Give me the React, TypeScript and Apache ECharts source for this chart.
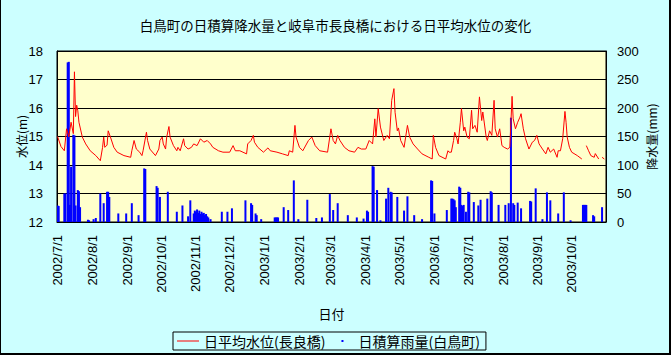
import React, { useEffect, useRef } from "react";
import * as echarts from "echarts";

const TITLE = "白鳥町の日積算降水量と岐阜市長良橋における日平均水位の変化";
const LEVEL_NAME = "日平均水位(長良橋)";
const RAIN_NAME = "日積算雨量(白鳥町)";
const START = [2002, 7, 1];
const END = [2003, 10, 31];

// daily average water level (m) at key dates, null = missing
const levelData: [string, number | null][] = [
  ["2002/7/1", 15.0], ["2002/7/4", 14.65], ["2002/7/7", 14.5], ["2002/7/9", 15.27], ["2002/7/11", 14.99],
  ["2002/7/13", 15.5], ["2002/7/15", 15.1], ["2002/7/16", 17.27], ["2002/7/17", 15.7], ["2002/7/18", 16.1],
  ["2002/7/19", 15.9], ["2002/7/20", 15.5], ["2002/7/23", 14.98], ["2002/7/26", 14.74], ["2002/7/30", 14.5],
  ["2002/8/4", 14.33], ["2002/8/8", 14.15], ["2002/8/10", 14.62], ["2002/8/11", 14.98], ["2002/8/12", 14.62],
  ["2002/8/14", 14.7], ["2002/8/15", 15.2], ["2002/8/17", 14.98], ["2002/8/20", 14.62], ["2002/8/23", 14.45],
  ["2002/8/29", 14.33], ["2002/9/4", 14.27], ["2002/9/5", 14.5], ["2002/9/7", 14.86], ["2002/9/9", 14.56],
  ["2002/9/12", 14.45], ["2002/9/14", 14.33], ["2002/9/15", 14.5], ["2002/9/18", 15.15], ["2002/9/19", 14.86],
  ["2002/9/21", 14.56], ["2002/9/26", 14.33], ["2002/9/29", 14.56], ["2002/9/30", 14.86], ["2002/10/2", 14.98],
  ["2002/10/3", 14.74], ["2002/10/5", 14.56], ["2002/10/6", 14.98], ["2002/10/8", 15.35], ["2002/10/9", 14.98],
  ["2002/10/12", 14.68], ["2002/10/15", 14.5], ["2002/10/16", 14.62], ["2002/10/18", 14.5], ["2002/10/21", 14.92],
  ["2002/10/22", 14.68], ["2002/10/25", 14.56], ["2002/10/28", 14.62], ["2002/10/30", 14.74], ["2002/11/2", 14.68],
  ["2002/11/5", 14.92], ["2002/11/8", 14.8], ["2002/11/11", 14.86], ["2002/11/14", 14.74], ["2002/11/16", 14.62],
  ["2002/11/21", 14.5], ["2002/11/25", 14.45], ["2002/12/1", 14.45], ["2002/12/4", 14.68], ["2002/12/6", 14.5],
  ["2002/12/10", 14.5], ["2002/12/16", 14.39], ["2002/12/17", 14.74], ["2002/12/20", 14.86], ["2002/12/22", 15.04],
  ["2002/12/23", 14.8], ["2002/12/26", 14.62], ["2002/12/31", 14.45], ["2003/1/4", 14.6], ["2003/1/6", 14.5],
  ["2003/1/12", 14.45], ["2003/1/17", 14.39], ["2003/1/22", 14.33], ["2003/1/23", 14.5], ["2003/1/26", 14.45],
  ["2003/1/28", 15.39], ["2003/1/29", 14.98], ["2003/2/1", 14.62], ["2003/2/4", 14.5], ["2003/2/9", 14.86],
  ["2003/2/12", 14.98], ["2003/2/15", 14.68], ["2003/2/19", 14.5], ["2003/2/26", 14.45], ["2003/3/1", 15.27],
  ["2003/3/3", 14.86], ["2003/3/5", 14.74], ["2003/3/7", 15.04], ["2003/3/9", 14.86], ["2003/3/13", 14.62],
  ["2003/3/17", 14.5], ["2003/3/22", 14.45], ["2003/3/25", 14.62], ["2003/3/28", 14.56], ["2003/4/1", 14.56],
  ["2003/4/4", 14.86], ["2003/4/7", 14.74], ["2003/4/9", 15.62], ["2003/4/10", 14.98], ["2003/4/12", 15.98],
  ["2003/4/14", 15.33], ["2003/4/17", 14.86], ["2003/4/20", 15.04], ["2003/4/22", 14.92], ["2003/4/24", 16.27],
  ["2003/4/26", 16.68], ["2003/4/27", 15.85], ["2003/4/29", 15.2], ["2003/4/30", 15.3], ["2003/5/2", 14.86],
  ["2003/5/5", 14.62], ["2003/5/8", 15.39], ["2003/5/10", 14.98], ["2003/5/13", 14.74], ["2003/5/17", 14.56],
  ["2003/5/21", 14.39], ["2003/5/27", 14.27], ["2003/5/30", 14.21], ["2003/5/31", 15.04], ["2003/6/2", 14.62],
  ["2003/6/5", 14.33], ["2003/6/11", 14.21], ["2003/6/13", 14.5], ["2003/6/14", 14.45], ["2003/6/16", 14.45],
  ["2003/6/18", 14.86], ["2003/6/19", 15.15], ["2003/6/21", 14.92], ["2003/6/22", 14.74], ["2003/6/24", 15.5],
  ["2003/6/25", 15.98], ["2003/6/27", 15.2], ["2003/6/28", 15.33], ["2003/6/30", 14.98], ["2003/7/2", 14.92],
  ["2003/7/4", 15.92], ["2003/7/5", 15.27], ["2003/7/7", 15.39], ["2003/7/9", 15.15], ["2003/7/11", 16.39],
  ["2003/7/13", 15.56], ["2003/7/14", 15.86], ["2003/7/17", 14.98], ["2003/7/18", 14.86], ["2003/7/20", 15.2],
  ["2003/7/22", 15.04], ["2003/7/24", 16.27], ["2003/7/25", 15.27], ["2003/7/27", 14.98], ["2003/7/29", 15.27],
  ["2003/7/31", 14.68], ["2003/8/2", 14.62], ["2003/8/5", 14.56], ["2003/8/7", 14.62], ["2003/8/9", 16.41],
  ["2003/8/10", 15.62], ["2003/8/12", 15.27], ["2003/8/14", 15.5], ["2003/8/16", 15.68], ["2003/8/17", 15.8],
  ["2003/8/19", 15.27], ["2003/8/21", 14.92], ["2003/8/24", 14.56], ["2003/8/27", 14.8], ["2003/8/29", 14.86],
  ["2003/8/31", 15.04], ["2003/9/2", 14.74], ["2003/9/5", 14.56], ["2003/9/8", 14.39], ["2003/9/10", 14.62],
  ["2003/9/12", 14.45], ["2003/9/15", 14.56], ["2003/9/18", 14.27], ["2003/9/19", 14.5], ["2003/9/21", 14.5],
  ["2003/9/23", 14.92], ["2003/9/25", 15.88], ["2003/9/26", 15.5], ["2003/9/27", 14.98], ["2003/9/29", 14.62],
  ["2003/10/1", 14.45], ["2003/10/6", 14.33], ["2003/10/10", 14.21], ["2003/10/12", null], ["2003/10/14", 14.68],
  ["2003/10/16", 14.5], ["2003/10/18", 14.33], ["2003/10/21", 14.27], ["2003/10/22", 14.4], ["2003/10/25", 14.21],
  ["2003/10/26", null], ["2003/10/28", 14.27], ["2003/10/30", 14.21],
];

// daily precipitation (mm), days with rain only
const rainData: [string, number][] = [
  ["2002/7/1", 29], ["2002/7/2", 28], ["2002/7/7", 50], ["2002/7/8", 50], ["2002/7/10", 280], ["2002/7/11", 281],
  ["2002/7/12", 30], ["2002/7/13", 97], ["2002/7/15", 153], ["2002/7/16", 152], ["2002/7/17", 29], ["2002/7/19", 56],
  ["2002/7/20", 54], ["2002/7/21", 26], ["2002/7/28", 4], ["2002/7/29", 3], ["2002/8/2", 5], ["2002/8/4", 7],
  ["2002/8/8", 50], ["2002/8/11", 33], ["2002/8/14", 53], ["2002/8/15", 53], ["2002/8/16", 44], ["2002/8/24", 15],
  ["2002/8/31", 15], ["2002/9/5", 33], ["2002/9/11", 12], ["2002/9/16", 94], ["2002/9/17", 93], ["2002/9/27", 63],
  ["2002/9/28", 60], ["2002/9/30", 44], ["2002/10/7", 53], ["2002/10/15", 18], ["2002/10/20", 29], ["2002/10/25", 10],
  ["2002/10/27", 38], ["2002/10/30", 15], ["2002/10/31", 20], ["2002/11/1", 18], ["2002/11/2", 22], ["2002/11/3", 16],
  ["2002/11/4", 20], ["2002/11/5", 14], ["2002/11/6", 18], ["2002/11/7", 15], ["2002/11/8", 16], ["2002/11/9", 12],
  ["2002/11/10", 14], ["2002/11/11", 10], ["2002/11/12", 8], ["2002/11/14", 5], ["2002/11/24", 18], ["2002/11/29", 18],
  ["2002/12/3", 24], ["2002/12/15", 38], ["2002/12/20", 33], ["2002/12/21", 30], ["2002/12/24", 15], ["2002/12/25", 12],
  ["2002/12/29", 5], ["2003/1/10", 8], ["2003/1/11", 8], ["2003/1/12", 8], ["2003/1/13", 8], ["2003/1/18", 26],
  ["2003/1/22", 21], ["2003/1/27", 73], ["2003/1/31", 5], ["2003/2/8", 39], ["2003/2/16", 7], ["2003/2/21", 8],
  ["2003/2/28", 49], ["2003/3/3", 21], ["2003/3/7", 33], ["2003/3/16", 12], ["2003/3/24", 8], ["2003/3/30", 6],
  ["2003/4/2", 20], ["2003/4/3", 18], ["2003/4/7", 98], ["2003/4/8", 97], ["2003/4/11", 56], ["2003/4/14", 3],
  ["2003/4/19", 41], ["2003/4/21", 60], ["2003/4/23", 53], ["2003/4/24", 52], ["2003/4/29", 44], ["2003/5/5", 20],
  ["2003/5/8", 45], ["2003/5/14", 12], ["2003/5/21", 5], ["2003/5/29", 73], ["2003/5/30", 72], ["2003/6/1", 15],
  ["2003/6/12", 21], ["2003/6/16", 41], ["2003/6/17", 41], ["2003/6/18", 40], ["2003/6/19", 38], ["2003/6/20", 26],
  ["2003/6/23", 62], ["2003/6/24", 60], ["2003/6/25", 30], ["2003/6/26", 28], ["2003/6/27", 30], ["2003/6/29", 18],
  ["2003/7/1", 53], ["2003/7/2", 52], ["2003/7/6", 35], ["2003/7/10", 29], ["2003/7/12", 39], ["2003/7/18", 41],
  ["2003/7/21", 54], ["2003/7/22", 52], ["2003/7/28", 30], ["2003/8/3", 30], ["2003/8/6", 33], ["2003/8/8", 183],
  ["2003/8/10", 33], ["2003/8/11", 30], ["2003/8/14", 34], ["2003/8/17", 24], ["2003/8/25", 37], ["2003/8/26", 36],
  ["2003/8/30", 59], ["2003/9/5", 5], ["2003/9/9", 52], ["2003/9/12", 38], ["2003/9/19", 15], ["2003/9/24", 52],
  ["2003/9/30", 3], ["2003/10/11", 30], ["2003/10/12", 30], ["2003/10/13", 30], ["2003/10/14", 30], ["2003/10/20", 12],
  ["2003/10/21", 10], ["2003/10/28", 26],
];

function buildDates(): string[] {
  const out: string[] = [];
  let t = Date.UTC(START[0], START[1] - 1, START[2]);
  const end = Date.UTC(END[0], END[1] - 1, END[2]);
  while (t <= end) {
    const d = new Date(t);
    out.push(`${d.getUTCFullYear()}/${d.getUTCMonth() + 1}/${d.getUTCDate()}`);
    t += 86400000;
  }
  return out;
}

const JP = "'Noto Sans CJK JP', sans-serif";
const NUM = "'Liberation Sans', Arial, sans-serif";

export default function App() {
  const ref = useRef<HTMLDivElement>(null);
  useEffect(() => {
    if (!ref.current) return;
    const chart = echarts.init(ref.current, undefined, { renderer: "svg" });
    const dates = buildDates();
    chart.setOption({
      animation: false,
      backgroundColor: "#ccffff",
      title: {
        text: TITLE,
        left: "center",
        top: 13,
        textStyle: { fontFamily: JP, fontSize: 13.5, fontWeight: "normal", color: "#000" },
      },
      legend: {
        left: 173,
        top: 332,
        orient: "horizontal",
        borderColor: "#000",
        borderWidth: 1,
        padding: [2, 6, 2, 4],
        itemGap: 6,
        itemWidth: 22,
        itemHeight: 10,
        textStyle: { fontFamily: JP, fontSize: 14, color: "#000", lineHeight: 14 },
        data: [
          {
            name: LEVEL_NAME,
            icon: "path://M0,4.5L22,4.5L22,5.5L0,5.5Z M0,0L0.01,0L0.01,0.01Z M22,10L21.99,10L21.99,9.99Z",
            itemStyle: { color: "#ff0000" },
          },
          {
            name: RAIN_NAME,
            icon: "path://M0,0L0.01,0L0.01,0.01Z M10,4L12,4L12,6L10,6Z M22,10L21.99,10L21.99,9.99Z",
          },
        ],
      },
      grid: {
        left: 57,
        right: 65,
        top: 51,
        bottom: 133,
        show: true,
        backgroundColor: "#ffffcc",
        borderColor: "#000",
        borderWidth: 1,
        containLabel: false,
      },
      xAxis: {
        type: "category",
        data: dates,
        boundaryGap: true,
        name: "日付",
        nameLocation: "middle",
        nameGap: 85,
        nameMoveOverlap: false,
        nameTextStyle: { fontFamily: JP, fontSize: 13, color: "#000" },
        axisLine: { show: true, lineStyle: { color: "#000" } },
        axisTick: { show: false },
        axisLabel: {
          rotate: 90,
          margin: 13,
          interval: (_i: number, v: string) => v.endsWith("/1"),
          fontFamily: NUM,
          fontSize: 13,
          color: "#000",
        },
        splitLine: { show: false },
      },
      yAxis: [
        {
          type: "value",
          min: 12,
          max: 18,
          interval: 1,
          name: "水位(m)",
          nameLocation: "middle",
          nameRotate: 90,
          nameGap: 30,
          nameMoveOverlap: false,
          nameTextStyle: { fontFamily: JP, fontSize: 12, color: "#000" },
          axisLine: { show: true, lineStyle: { color: "#000" } },
          axisTick: { show: false },
          axisLabel: { margin: 14, fontFamily: NUM, fontSize: 13, color: "#000" },
          splitLine: { show: true, lineStyle: { color: "#000", width: 1 } },
        },
        {
          type: "value",
          min: 0,
          max: 300,
          interval: 50,
          position: "right",
          name: "降水量(mm)",
          nameLocation: "middle",
          nameRotate: 90,
          nameGap: 39,
          nameMoveOverlap: false,
          nameTextStyle: { fontFamily: JP, fontSize: 12, color: "#000" },
          axisLine: { show: true, lineStyle: { color: "#000" } },
          axisTick: { show: false },
          axisLabel: { margin: 11, fontFamily: NUM, fontSize: 13, color: "#000" },
          splitLine: { show: false },
        },
      ],
      series: [
        {
          name: RAIN_NAME,
          type: "bar",
          yAxisIndex: 1,
          data: rainData,
          barWidth: 2,
          itemStyle: { color: "#0000ff" },
        },
        {
          name: LEVEL_NAME,
          type: "line",
          yAxisIndex: 0,
          data: levelData.map(([d, v]) => [d, v === null ? "-" : v]),
          symbol: "none",
          connectNulls: false,
          lineStyle: { color: "#ff0000", width: 1 },
          itemStyle: { color: "#ff0000" },
          z: 3,
        },
      ],
      graphic: [
        { type: "rect", shape: { x: 0, y: 0, width: 1, height: 355 }, style: { fill: "#000" }, silent: true },
        { type: "rect", shape: { x: 669, y: 0, width: 2, height: 355 }, style: { fill: "#000" }, silent: true },
        { type: "rect", shape: { x: 0, y: 353, width: 671, height: 2 }, style: { fill: "#000" }, silent: true },
      ],
    });
    return () => chart.dispose();
  }, []);
  return (
    <div
      ref={ref}
      style={{ position: "fixed", left: 0, top: 0, width: 671, height: 355 }}
    />
  );
}
